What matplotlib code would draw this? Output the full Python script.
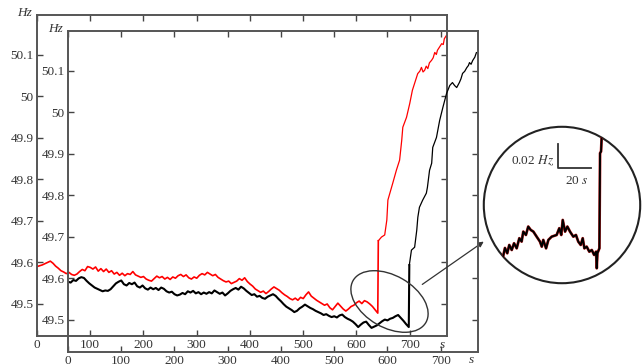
import numpy as np
import matplotlib.pyplot as plt
from matplotlib.patches import Ellipse, Circle
from matplotlib.ticker import FuncFormatter

plt.rcParams['font.family'] = ['Liberation Serif', 'DejaVu Serif']
plt.rcParams['font.size'] = 9.5
plt.rcParams['mathtext.fontset'] = 'stix'

######################## frequency records (Hz vs s) ##########################
# first record (red), 5 s samples up to the disturbance
red_t_pre = list(range(0, 645, 5))
red_f_pre = [49.590, 49.592, 49.594, 49.597, 49.600, 49.603, 49.598, 49.591, 49.586, 49.580,
             49.577, 49.573, 49.576, 49.571, 49.569, 49.572, 49.578, 49.583, 49.580, 49.590,
             49.588, 49.584, 49.589, 49.579, 49.585, 49.578, 49.584, 49.576, 49.580, 49.572,
             49.576, 49.569, 49.574, 49.568, 49.573, 49.571, 49.578, 49.570, 49.567, 49.564,
             49.566, 49.560, 49.557, 49.555, 49.561, 49.567, 49.563, 49.566, 49.560, 49.564,
             49.559, 49.565, 49.562, 49.568, 49.571, 49.566, 49.570, 49.563, 49.560, 49.565,
             49.562, 49.569, 49.573, 49.570, 49.576, 49.572, 49.568, 49.571, 49.564, 49.560,
             49.556, 49.553, 49.555, 49.549, 49.552, 49.555, 49.561, 49.557, 49.563, 49.554,
             49.548, 49.543, 49.536, 49.532, 49.528, 49.531, 49.525, 49.530, 49.536, 49.541,
             49.537, 49.533, 49.527, 49.522, 49.518, 49.513, 49.510, 49.514, 49.509, 49.516,
             49.513, 49.522, 49.529, 49.519, 49.514, 49.509, 49.505, 49.501, 49.497, 49.500,
             49.491, 49.486, 49.494, 49.502, 49.495, 49.488, 49.483, 49.488, 49.494, 49.497,
             49.503, 49.507, 49.501, 49.508, 49.505, 49.500, 49.494, 49.486, 49.478]
# recovery after the step
red_t_post = [641, 647, 653, 657, 659, 668, 675, 681, 685, 687, 694, 700, 705, 709, 715, 719,
              722, 725, 728, 731, 734, 737, 741, 744, 747, 750, 752, 756, 760, 763, 765, 769]
red_f_post = [49.652, 49.661, 49.666, 49.702, 49.750, 49.790, 49.822, 49.846, 49.894, 49.925,
              49.949, 49.982, 50.014, 50.030, 50.054, 50.060, 50.069, 50.058, 50.062, 50.072,
              50.066, 50.080, 50.086, 50.092, 50.105, 50.100, 50.110, 50.118, 50.126, 50.124,
              50.138, 50.146]

# second record (black)
blk_t_pre = list(range(0, 645, 5))
blk_f_pre = [49.592, 49.590, 49.596, 49.594, 49.600, 49.603, 49.601, 49.594, 49.588, 49.583,
             49.578, 49.575, 49.572, 49.569, 49.571, 49.570, 49.574, 49.581, 49.588, 49.592,
             49.595, 49.586, 49.583, 49.589, 49.586, 49.590, 49.581, 49.578, 49.583, 49.576,
             49.573, 49.578, 49.574, 49.577, 49.572, 49.578, 49.575, 49.569, 49.566, 49.568,
             49.562, 49.559, 49.561, 49.565, 49.562, 49.569, 49.566, 49.570, 49.564, 49.567,
             49.562, 49.566, 49.563, 49.567, 49.564, 49.571, 49.567, 49.563, 49.566, 49.559,
             49.564, 49.570, 49.574, 49.577, 49.573, 49.580, 49.576, 49.570, 49.565, 49.560,
             49.562, 49.556, 49.558, 49.553, 49.551, 49.556, 49.559, 49.562, 49.558, 49.551,
             49.545, 49.538, 49.532, 49.528, 49.524, 49.519, 49.522, 49.528, 49.532, 49.537,
             49.533, 49.529, 49.526, 49.522, 49.519, 49.516, 49.512, 49.514, 49.510, 49.507,
             49.509, 49.506, 49.511, 49.513, 49.507, 49.503, 49.500, 49.496, 49.490, 49.483,
             49.489, 49.494, 49.496, 49.488, 49.481, 49.484, 49.487, 49.492, 49.497, 49.501,
             49.499, 49.503, 49.505, 49.509, 49.512, 49.505, 49.498, 49.490, 49.483]
blk_t_post = [641, 645, 651, 655, 657, 660, 666, 673, 675, 679, 683, 685, 692, 698, 704, 711,
              717, 722, 726, 730, 735, 738, 741, 745, 749, 752, 754, 757, 760, 764, 767]
blk_f_post = [49.632, 49.668, 49.675, 49.716, 49.747, 49.771, 49.788, 49.805, 49.819, 49.860,
              49.877, 49.915, 49.939, 49.980, 50.011, 50.045, 50.064, 50.071, 50.064, 50.059,
              50.071, 50.080, 50.093, 50.098, 50.107, 50.112, 50.119, 50.115, 50.124, 50.132,
              50.143]

# zoomed detail just before the step (s from start of window, Hz offset)
zoom_t = [0.0, 1.2, 2.6, 3.8, 5.3, 6.7, 8.3, 9.9, 11.3, 12.3, 13.9, 15.3, 16.8, 18.4, 20.4,
          22.4, 23.5, 24.4, 26.1, 27.5, 29.5, 32.5, 34.1, 35.3, 36.2, 37.6, 39.0, 40.6, 42.6,
          44.2, 45.6, 47.1, 48.3, 49.3, 50.7, 52.3, 53.8, 55.2, 56.4, 56.8, 57.2, 58.4, 58.8,
          59.4, 59.8, 60.0]
zoom_df = [0.0, 0.0075, 0.0031, 0.0100, 0.0058, 0.0114, 0.0072, 0.0156, 0.0128, 0.0211,
           0.0183, 0.0253, 0.0225, 0.0211, 0.0169, 0.0128, 0.0086, 0.0142, 0.0072, 0.0142,
           0.0169, 0.0183, 0.0239, 0.0183, 0.0308, 0.0211, 0.0253, 0.0211, 0.0169, 0.0183,
           0.0128, 0.0100, 0.0156, 0.0072, 0.0086, 0.0044, 0.0058, 0.0017, 0.0044, -0.0094,
           0.0031, 0.0072, 0.0864, 0.0878, 0.1003, 0.118]

x_ticks = [0, 100, 200, 300, 400, 500, 600, 700]
y_ticks = [49.5, 49.6, 49.7, 49.8, 49.9, 50.0, 50.1]

W, H = 644, 364
fig = plt.figure(figsize=(W / 100, H / 100), dpi=100)

# two identical frames, the second shifted right/down
ax1 = fig.add_axes([37 / W, 28 / H, 410 / W, 321 / H])
ax2 = fig.add_axes([68 / W, 12 / H, 410 / W, 321 / H])


def style(ax):
    ax.set_xlim(0, 770)
    ax.set_ylim(49.423, 50.195)
    ax.set_xticks(x_ticks)
    ax.set_yticks(y_ticks)
    ax.yaxis.set_major_formatter(FuncFormatter(lambda v, p: '%g' % v))
    ax.tick_params(direction='in', top=True, right=True, length=4, width=1,
                   color='#444444', labelcolor='#333333', pad=2.5)
    ax.patch.set_alpha(0)
    for sp in ax.spines.values():
        sp.set_color('#555555')
        sp.set_linewidth(1.4)
    ax.text(-0.012, 1.005, 'Hz', transform=ax.transAxes, ha='right', va='center',
            style='italic', color='#333333')


style(ax1)
style(ax2)

# noisy stretch drawn heavier than the recovery ramp
ax1.plot(red_t_pre + red_t_post[:1], red_f_pre + red_f_post[:1], color='red', lw=1.2)
ax1.plot(red_t_post, red_f_post, color='red', lw=0.9)
ax2.plot(blk_t_pre + blk_t_post[:1], blk_f_pre + blk_f_post[:1], color='black', lw=1.5)
ax2.plot(blk_t_post, blk_f_post, color='black', lw=0.9)

ax1.text(0.988, -0.028, 's', transform=ax1.transAxes, ha='center', va='center',
         style='italic', color='#333333')
ax2.text(0.985, -0.024, 's', transform=ax2.transAxes, ha='center', va='center',
         style='italic', color='#333333')

# ellipse marking the step and the arrow to the magnified view
fig.add_artist(Ellipse((3.895, 0.625), 0.84, 0.52, angle=-30, transform=fig.dpi_scale_trans,
                       fill=False, ec='#333333', lw=1))
ax1.annotate('', xy=(486 / W, 124 / H), xytext=(420 / W, 78 / H), xycoords='figure fraction',
             textcoords='figure fraction', annotation_clip=False,
             arrowprops=dict(arrowstyle='-|>', color='#333333', lw=0.9, mutation_scale=8))

# magnified view inside a circle
axin = fig.add_axes([483 / W, 80 / H, 158 / W, 158 / H])
axin.axis('off')
axin.set_xlim(-12.1, 83.6)
axin.set_ylim(-0.0225, 0.109)
clip = Circle((0.5, 0.5), 0.495, transform=axin.transAxes)
ring = Circle((0.5, 0.5), 0.495, transform=axin.transAxes, fill=False, ec='#222222',
              lw=1.5, clip_on=False)
axin.add_patch(ring)
l1, = axin.plot(zoom_t, zoom_df, color='#c02020', lw=2.0)
l2, = axin.plot(zoom_t, zoom_df, color='black', lw=1.4)
for ln in (l1, l2):
    ln.set_clip_path(clip)

# scale bar: 20 s by 0.02 Hz
axin.plot([33.3, 33.3, 53.3], [0.094, 0.074, 0.074], color='#333333', lw=1.3)
axin.text(31.0, 0.080, '0.02 $Hz$', ha='right', va='center', color='#333333')
axin.text(44.5, 0.063, '20 $s$', ha='center', va='center', color='#333333')

fig.savefig('out.png', dpi=100)
